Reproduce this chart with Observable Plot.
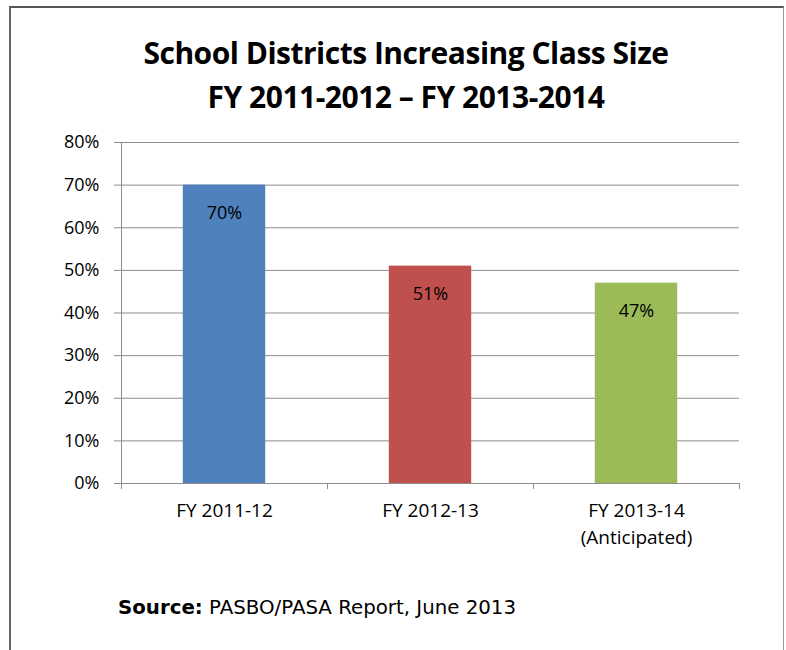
<!DOCTYPE html>
<html>
<head>
<meta charset="utf-8">
<script src="https://cdn.jsdelivr.net/npm/d3@7"></script>
<script src="https://cdn.jsdelivr.net/npm/@observablehq/plot@0.6"></script>
<style>
  html, body { margin: 0; padding: 0; background: #fff; }
  #wrap { position: relative; width: 786px; height: 650px; overflow: hidden; background: #fff; }
  #frame { position: absolute; left: 9px; top: 6px; width: 775px; height: 660px;
           border-left: 2px solid #666; border-top: 2px solid #555; border-right: 1px solid #999; box-sizing: border-box; }
  #title { position: absolute; left: 13px; width: 786px; top: 31px; text-align: center;
           font-family: "Open Sans", sans-serif; font-weight: 700; font-size: 30px; line-height: 44px; color: #000; letter-spacing: -0.5px; }
  #chart { position: absolute; left: 0; top: 120px; }
  #caption { position: absolute; left: 118px; top: 596px; font-family: "DejaVu Sans", sans-serif; font-size: 19.8px; color: #000; white-space: nowrap; }
</style>
</head>
<body>
<div id="wrap">
  <div id="frame"></div>
  <div id="title">School Districts Increasing Class Size<br>FY 2011-2012 – FY 2013-2014</div>
  <div id="chart"></div>
  <div id="caption"><b>Source:</b> PASBO/PASA Report, June 2013</div>
</div>
<script>
const categories = ["FY 2011-12", "FY 2012-13", "FY 2013-14\n(Anticipated)"];
const values = [70, 51, 47];
const colors = ["#4F81BD", "#C0504D", "#9BBB59"];
const yTicks = [0, 10, 20, 30, 40, 50, 60, 70, 80];

const data = categories.map((c, i) => ({category: c, value: values[i], color: colors[i], i}));
const boundaries = d3.range(categories.length + 1);
const font = "'Open Sans', sans-serif";

const chart = Plot.plot({
  width: 786,
  height: 450,
  marginTop: 22,
  marginBottom: 87,
  marginLeft: 121,
  marginRight: 47,
  style: {fontFamily: font, fontSize: "18px", color: "#000", background: "transparent"},
  x: {domain: [0, categories.length]},
  y: {domain: [0, 80]},
  marks: [
    Plot.ruleY(yTicks, {y: d => d, x1: 0, x2: categories.length, stroke: "#8c8c8c", strokeWidth: 1}),
    Plot.rectY(data, {x1: d => d.i + 0.3, x2: d => d.i + 0.7, y1: 0, y2: "value", fill: "color"}),
    Plot.ruleX([0], {x: d => d, y1: 0, y2: 80, stroke: "#8c8c8c", strokeWidth: 1}),
    Plot.axisY({ticks: yTicks, tickFormat: d => d + "%", tickSize: 7, tickPadding: 15, stroke: "#8c8c8c", strokeOpacity: 1, fill: "#000", fontSize: 18, label: null}),
    Plot.axisX({ticks: boundaries, tickFormat: () => "", tickSize: 6, stroke: "#8c8c8c", strokeOpacity: 1, label: null}),
    Plot.text(data, {x: d => d.i + 0.5, y: "value", text: d => d.value + "%", dy: 28, fontSize: 18, fill: "#000"}),
    Plot.text(data, {x: d => d.i + 0.5, y: 0, text: "category", lineAnchor: "top", dy: 15, lineHeight: 1.4, fontSize: 19, fill: "#000"})
  ]
});
document.getElementById("chart").appendChild(chart);
</script>
</body>
</html>
